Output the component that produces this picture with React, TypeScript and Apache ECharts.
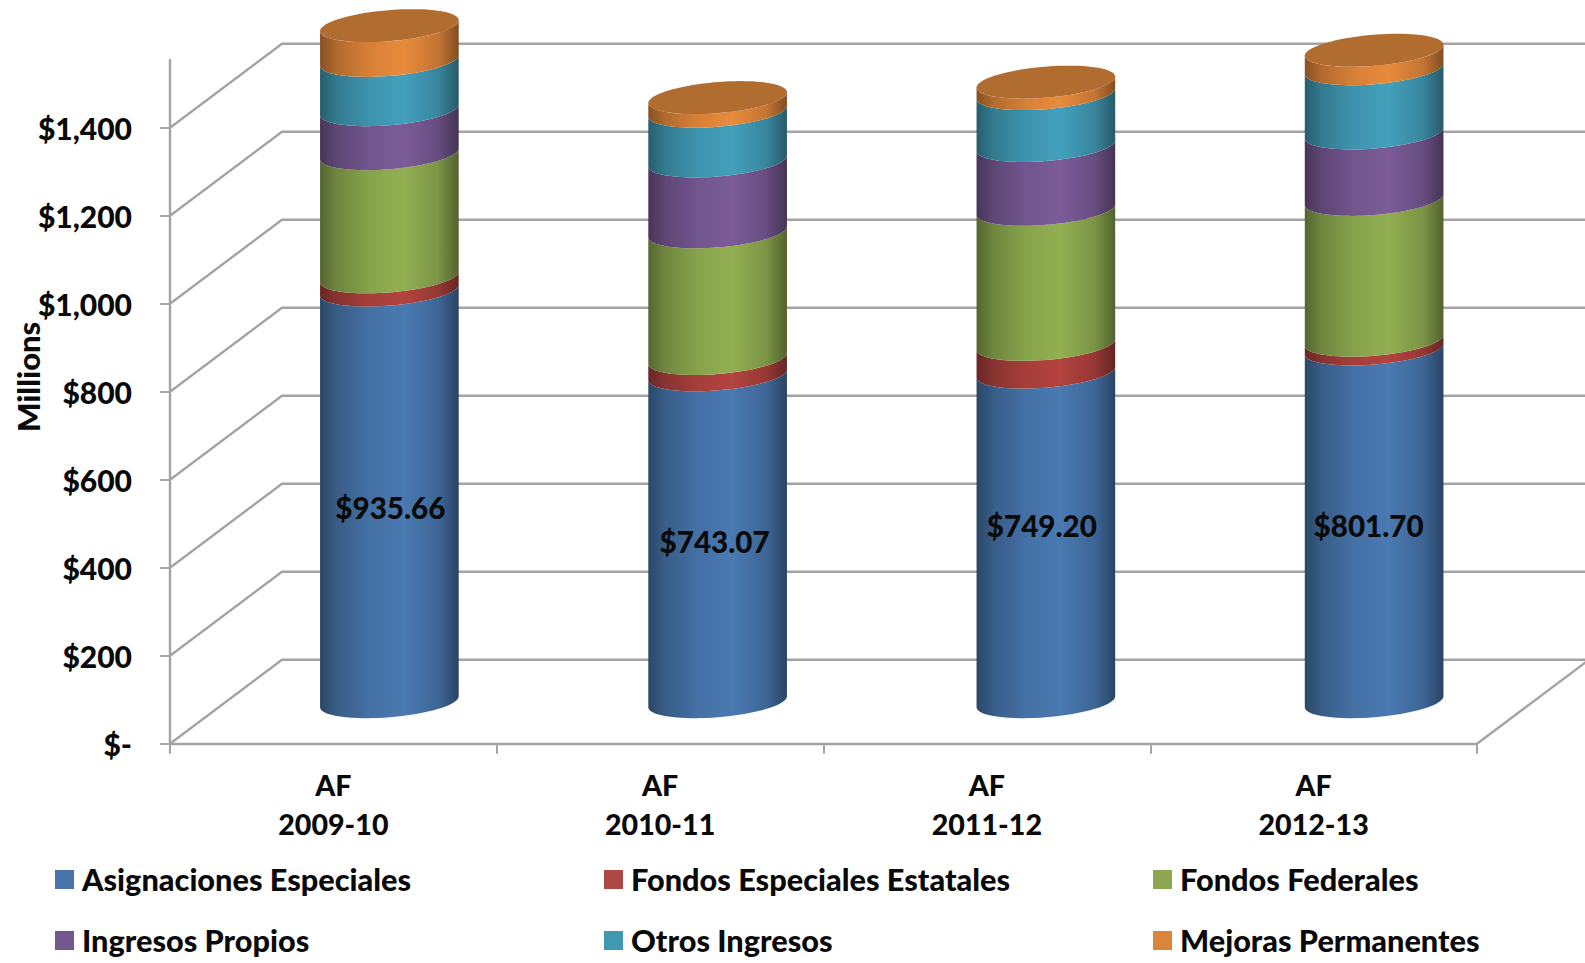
import React, { useEffect, useRef } from "react";
import * as echarts from "echarts";

const categories = ["AF\n2009-10", "AF\n2010-11", "AF\n2011-12", "AF\n2012-13"];
const yTicks = [0, 200, 400, 600, 800, 1000, 1200, 1400];
const axisTop = 1554;

const asignaciones = [935.66, 743.07, 749.2, 801.7];
const fondosEstatales = [30, 37, 63, 20];
const fondosFederales = [280, 288, 307, 320];
const ingresosPropios = [100, 161, 145, 151];
const otrosIngresos = [112, 113, 118, 146];
const mejoras = [79, 31, 26, 42];

const seriesNames = [
  "Asignaciones Especiales",
  "Fondos Especiales Estatales",
  "Fondos Federales",
  "Ingresos Propios",
  "Otros Ingresos",
  "Mejoras Permanentes",
];
const seriesValues = [asignaciones, fondosEstatales, fondosFederales, ingresosPropios, otrosIngresos, mejoras];
const legendColors = ["#4674AB", "#AE4845", "#8CA74F", "#73578F", "#4398B1", "#DD843B"];
const barColors = ["#4A7AB2", "#B3433F", "#92B052", "#7B5C98", "#43A0BC", "#E98B3C"];
const labelNudgeX = [1, -3, -4, -5.5];
const labelNudgeY = [12, 3, -11, 0];

const FONT = "Lato";
const WEIGHT = 900;
const TEXT_COLOR = "#0A0A0A";
const DEPTH_X = 112;
const DEPTH_Y = 84;
const BAR_SPREAD = 1.5; // the reference's columns sit slightly wider apart than its axis ticks
const RX = 65.4;
const DDX = 23;
const DDY = 16.5;
const GRID_COLOR = "#A4A4A4";
const shadeStops = [
  [0, 0.58],
  [0.12, 0.76],
  [0.35, 0.92],
  [0.6, 1],
  [0.85, 0.84],
  [1, 0.56],
];

function scaleColor(hex: string, f: number) {
  const n = parseInt(hex.slice(1), 16);
  const c = [(n >> 16) & 255, (n >> 8) & 255, n & 255].map((v) => Math.round(v * f));
  return `rgb(${c[0]},${c[1]},${c[2]})`;
}

function cylinderFill(hex: string) {
  return new echarts.graphic.LinearGradient(
    0,
    0,
    1,
    0,
    shadeStops.map(([offset, f]) => ({ offset, color: scaleColor(hex, f) })),
  );
}

const T0 = Math.atan2(DDX, RX);

function ellipsePoint(c: number[], t: number) {
  return [c[0] + RX * Math.cos(t) + DDX * Math.sin(t), c[1] - DDY * Math.sin(t)];
}

// Front arc, left extreme to right extreme, passing through the lowest point.
function frontArc(c: number[]) {
  const pts: number[][] = [];
  for (let i = 0; i <= 40; i++) pts.push(ellipsePoint(c, T0 + Math.PI + (Math.PI * i) / 40));
  return pts;
}

function fullEllipse(c: number[]) {
  const pts: number[][] = [];
  for (let i = 0; i < 80; i++) pts.push(ellipsePoint(c, (2 * Math.PI * i) / 80));
  return pts;
}

function cylinderSeries(si: number) {
  const data = categories.map((_, ci) => {
    let base = 0;
    for (let k = 0; k < si; k++) base += seriesValues[k][ci];
    return [ci, base, base + seriesValues[si][ci], seriesValues[si][ci]];
  });
  return {
    name: seriesNames[si],
    type: "custom",
    coordinateSystem: "cartesian2d",
    itemStyle: { color: legendColors[si] },
    encode: { x: 0, y: [1, 2] },
    z: 10 + si,
    data,
    renderItem(_params: any, api: any) {
      const ci = api.value(0);
      const p0 = api.coord([ci, api.value(1)]);
      const p1 = api.coord([ci, api.value(2)]);
      const shiftX = DEPTH_X / 2 + ci * BAR_SPREAD;
      const c0 = [p0[0] + shiftX, p0[1] - DEPTH_Y / 2];
      const c1 = [p1[0] + shiftX, p1[1] - DEPTH_Y / 2];
      const children: any[] = [
        {
          type: "polygon",
          shape: { points: [...frontArc(c0), ...frontArc(c1).reverse()] },
          style: { fill: cylinderFill(barColors[si]) },
        },
      ];
      if (si === seriesNames.length - 1) {
        children.push({
          type: "polygon",
          shape: { points: fullEllipse(c1) },
          style: { fill: "#B16C30" },
        });
      }
      if (si === 0) {
        children.push({
          type: "text",
          style: {
            text: "$" + api.value(3).toFixed(2),
            x: (c0[0] + c1[0]) / 2 + labelNudgeX[ci],
            y: (c0[1] + c1[1]) / 2 + labelNudgeY[ci],
            align: "center",
            verticalAlign: "middle",
            fill: TEXT_COLOR,
            font: `${WEIGHT} 29.6px ${FONT}`,
          },
        });
      }
      return { type: "group", children };
    },
  };
}

const gridSeries = {
  type: "custom",
  coordinateSystem: "cartesian2d",
  silent: true,
  encode: { x: 0, y: 1 },
  z: 1,
  data: yTicks.map((v) => [0, v]),
  renderItem(params: any, api: any) {
    const y = api.coord([0, api.value(1)])[1];
    const left = params.coordSys.x;
    const right = left + params.coordSys.width;
    const pts = [
      [left, y],
      [left + DEPTH_X, y - DEPTH_Y],
      [right + DEPTH_X, y - DEPTH_Y],
    ];
    if (api.value(1) === 0) pts.push([right, y]);
    return {
      type: "polyline",
      shape: { points: pts },
      style: { stroke: GRID_COLOR, lineWidth: 2.4, fill: "none" },
    };
  },
};

const legendColumns = [
  { left: 55, names: [seriesNames[0], seriesNames[3]] },
  { left: 604, names: [seriesNames[1], seriesNames[4]] },
  { left: 1153, names: [seriesNames[2], seriesNames[5]] },
];

export default function App() {
  const ref = useRef<HTMLDivElement>(null);
  useEffect(() => {
    document.body.style.margin = "0";
    document.body.style.overflow = "hidden";
    const chart = echarts.init(ref.current!, undefined, { renderer: "svg" });
    chart.setOption({
      animation: false,
      backgroundColor: "#FFFFFF",
      textStyle: { fontFamily: FONT },
      grid: { left: 170, right: 108, top: 60, bottom: 219.3, outerBoundsMode: "none" },
      legend: legendColumns.map((col) => ({
        data: col.names,
        orient: "vertical",
        left: col.left,
        top: 864,
        padding: 0,
        itemWidth: 19,
        itemHeight: 19,
        itemGap: 30,
        icon: "rect",
        selectedMode: false,
        textStyle: {
          fontFamily: FONT,
          fontWeight: WEIGHT,
          fontSize: 30.7,
          color: TEXT_COLOR,
          padding: [0, 0, 0, 3],
        },
      })),
      xAxis: {
        type: "category",
        data: categories,
        axisLine: { lineStyle: { color: GRID_COLOR, width: 2.4 } },
        axisTick: { show: true, alignWithLabel: false, length: 10, lineStyle: { color: GRID_COLOR, width: 2 } },
        axisLabel: {
          margin: 22,
          interval: 0,
          fontFamily: FONT,
          fontWeight: WEIGHT,
          fontSize: 28.6,
          lineHeight: 39,
          color: TEXT_COLOR,
        },
      },
      yAxis: {
        type: "value",
        min: 0,
        max: axisTop,
        name: "Millions",
        nameLocation: "middle",
        nameMoveOverlap: false,
        nameGap: 127,
        nameRotate: 90,
        nameTextStyle: {
          fontFamily: FONT,
          fontWeight: WEIGHT,
          fontSize: 31,
          color: TEXT_COLOR,
          padding: [0, 0, 0, 50],
        },
        splitLine: { show: false },
        axisLine: { show: true, lineStyle: { color: GRID_COLOR, width: 2.4 } },
        axisTick: { show: true, length: 10, customValues: yTicks, lineStyle: { color: GRID_COLOR, width: 2 } },
        axisLabel: {
          customValues: yTicks,
          margin: 38,
          fontFamily: FONT,
          fontWeight: WEIGHT,
          fontSize: 30,
          color: TEXT_COLOR,
          formatter: (v: number) => (v === 0 ? "$-" : "$" + v.toLocaleString("en-US")),
        },
      },
      series: [gridSeries, ...seriesNames.map((_, i) => cylinderSeries(i))],
    });
    return () => chart.dispose();
  }, []);
  return <div ref={ref} style={{ width: 1585, height: 963 }} />;
}
